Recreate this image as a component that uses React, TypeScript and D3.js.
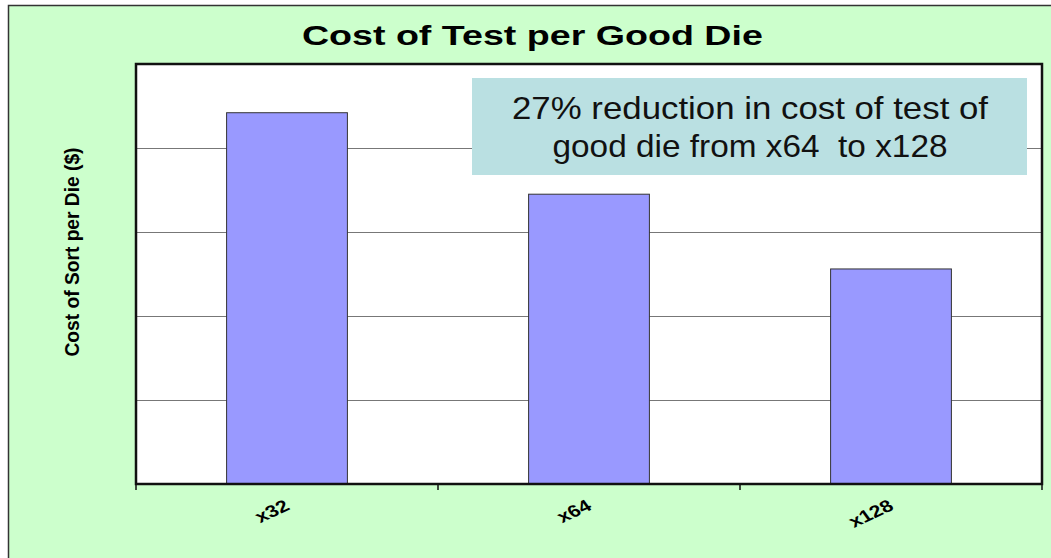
import React from "react";
import * as d3 from "d3";

const categories = ["x32", "x64", "x128"];
const values = [4.42, 3.45, 2.56];
const yTicks = [0, 1, 2, 3, 4, 5];
const title = "Cost of Test per Good Die";
const yLabel = "Cost of Sort per Die ($)";
const noteLines = ["27% reduction in cost of test of", "good die from x64  to x128"];

export default function App() {
  const W = 1051, H = 558;
  const plot = { left: 136, top: 64, right: 1042, bottom: 484 };
  const x = d3.scaleBand<string>().domain(categories).range([plot.left, plot.right]).padding(0);
  const y = d3.scaleLinear().domain([0, 5]).range([plot.bottom, plot.top]);
  const barW = x.bandwidth() * 0.4;
  const tickXs = [...categories.map((c) => x(c) as number), plot.right];
  const font = "Liberation Sans, Arial, sans-serif";

  return (
    <svg width={W} height={H} style={{ position: "absolute", left: 0, top: 0 }}>
      <rect x={0} y={0} width={W} height={H} fill="#ffffff" />
      <rect x={8.5} y={5.5} width={W} height={H} fill="#ccffcc" stroke="#333" strokeWidth={1.5} />
      <text x={532.4} y={45} textAnchor="middle" fontFamily={font} fontWeight="bold" fontSize={28} textLength={461} lengthAdjust="spacingAndGlyphs" fill="#000">{title}</text>
      <rect x={plot.left} y={plot.top} width={plot.right - plot.left} height={plot.bottom - plot.top} fill="#fff" />
      {yTicks.slice(1, -1).map((t) => (
        <line key={t} x1={plot.left} x2={plot.right} y1={y(t) + 0.5} y2={y(t) + 0.5} stroke="#777" strokeWidth={1} />
      ))}
      {categories.map((c, i) => {
        const cx = (x(c) as number) + x.bandwidth() / 2;
        return (
          <rect key={c} x={cx - barW / 2} y={y(values[i])} width={barW} height={plot.bottom - y(values[i])} fill="#9999ff" stroke="#333" strokeWidth={1} />
        );
      })}
      <rect x={plot.left} y={plot.top} width={plot.right - plot.left} height={plot.bottom - plot.top} fill="none" stroke="#111" strokeWidth={2.5} />
      {tickXs.map((tx, i) => (
        <line key={i} x1={tx} x2={tx} y1={plot.bottom} y2={plot.bottom + 6} stroke="#111" strokeWidth={1.5} />
      ))}
      {categories.map((c) => {
        const cx = (x(c) as number) + x.bandwidth() / 2;
        return (
          <text key={c} transform={`translate(${cx + 4},${plot.bottom + 25}) scale(1.25,1) rotate(-30)`} textAnchor="end" fontFamily={font} fontWeight="bold" fontSize={17} fill="#000">{c}</text>
        );
      })}
      <text transform={`translate(79,252) scale(1.4,1) rotate(-90)`} textAnchor="middle" fontFamily={font} fontWeight="bold" fontSize={15} textLength={209} lengthAdjust="spacingAndGlyphs" fill="#000">{yLabel}</text>
      <rect x={472} y={78} width={555} height={97} fill="#bae0e2" />
      {noteLines.map((l, i) => (
        <text key={i} x={750} y={119 + i * 38} textAnchor="middle" fontFamily={font} fontSize={32} textLength={i === 0 ? 476 : 395} lengthAdjust="spacingAndGlyphs" fill="#111" style={{ whiteSpace: "pre" }}>{l}</text>
      ))}
    </svg>
  );
}
